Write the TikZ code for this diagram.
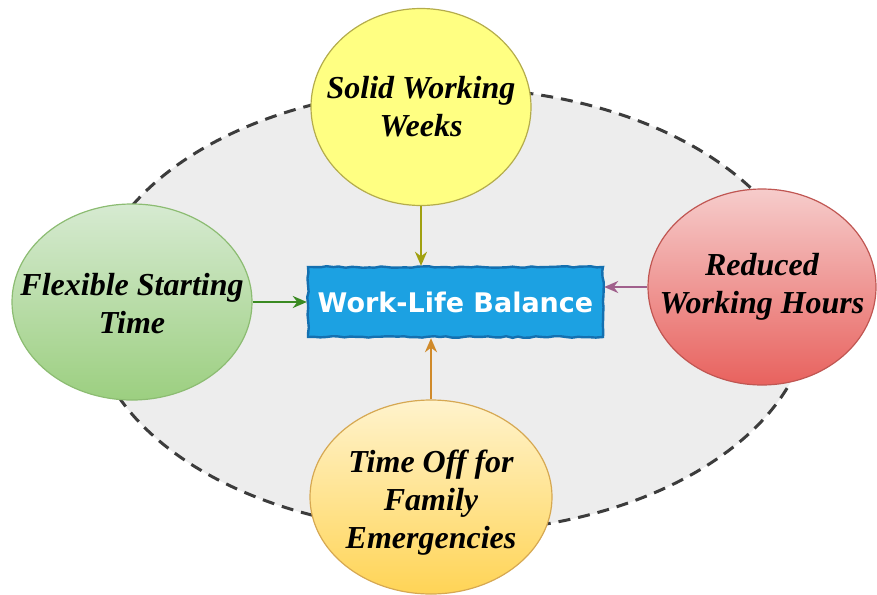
\documentclass[tikz,border=0pt]{standalone}
\usepackage{fontspec}
\setmainfont{Liberation Serif}
\newfontfamily\boxfont{DejaVu Sans}
\usepackage{tikz}
\usetikzlibrary{arrows.meta, shapes.geometric, decorations.pathmorphing}

\definecolor{ringfill}{HTML}{EDEDED}
\definecolor{ringline}{HTML}{3C3C3C}
\definecolor{solidfill}{HTML}{FFFF82}
\definecolor{soliddraw}{HTML}{B4AC4C}
\definecolor{solidarrow}{HTML}{A0A010}
\definecolor{flextop}{HTML}{D6EAD1}
\definecolor{flexbot}{HTML}{9CCF80}
\definecolor{flexdraw}{HTML}{8CBC72}
\definecolor{flexarrow}{HTML}{3A8A22}
\definecolor{hourstop}{HTML}{F6CCCB}
\definecolor{hoursbot}{HTML}{E8625E}
\definecolor{hoursdraw}{HTML}{C05652}
\definecolor{hoursarrow}{HTML}{A0608C}
\definecolor{familytop}{HTML}{FFF3CC}
\definecolor{familybot}{HTML}{FFD456}
\definecolor{familydraw}{HTML}{D6A852}
\definecolor{familyarrow}{HTML}{D08A2A}
\definecolor{wlbfill}{HTML}{1CA1E2}
\definecolor{wlbdraw}{HTML}{1470B0}

\begin{document}
\begin{tikzpicture}[x=0.5pt, y=-0.5pt]
    \tikzstyle{bubble}=[draw,ellipse,line width=0.6pt]
    \tikzstyle{bubbletext}=[align=center,text=black,font=\bfseries\itshape\fontsize{16}{19}\selectfont]
    \tikzstyle{wlbbox}=[draw=wlbdraw,fill=wlbfill,line width=1.2pt,text=white,minimum width=147.5pt,minimum height=35pt,
        font=\boxfont\bfseries\fontsize{13.5}{16}\selectfont,
        decorate,decoration={random steps,segment length=3pt,amplitude=0.4pt}]
    \tikzstyle{edge} = [draw,line width=1.2pt,-{Stealth[length=7pt,width=6pt]}]

    \pgfmathsetseed{7}
    \useasboundingbox (0,0) rectangle (877,594);

    \draw[ringline,fill=ringfill,line width=1.5pt,dash pattern=on 6pt off 4pt] (450,310) ellipse [x radius=180pt, y radius=111pt];

    \node[wlbbox] (wlb) at (455.5,302) {Work-Life Balance};

    \node[bubble,fill=solidfill,draw=soliddraw,minimum width=110pt,minimum height=98.5pt,
        label={[bubbletext]center:Solid Working\\Weeks}] (solid) at (421,107) {};
    \node[bubble,top color=flextop,bottom color=flexbot,draw=flexdraw,minimum width=120pt,minimum height=98pt,
        label={[bubbletext,yshift=-1pt]center:Flexible Starting\\Time}] (flex) at (132,302) {};
    \node[bubble,top color=hourstop,bottom color=hoursbot,draw=hoursdraw,minimum width=114pt,minimum height=98pt,
        label={[bubbletext]center:Reduced\\Working Hours}] (hours) at (762,287) {};
    \node[bubble,top color=familytop,bottom color=familybot,draw=familydraw,minimum width=121pt,minimum height=97pt,
        label={[bubbletext,yshift=-3pt]center:Time Off for\\Family\\Emergencies}] (family) at (431,497) {};

    \path[edge,draw=solidarrow] (solid) -- (solid |- wlb.north);
    \path[edge,draw=flexarrow] (flex) -- (wlb);
    \path[edge,draw=hoursarrow] (hours) -- (hours -| wlb.east);
    \path[edge,draw=familyarrow] (family) -- (family |- wlb.south);

\end{tikzpicture}
\end{document}
